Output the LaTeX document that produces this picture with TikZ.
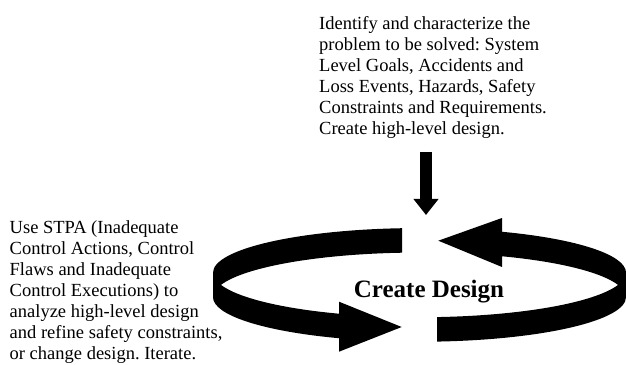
\documentclass[tikz,border=0pt]{standalone}
\usepackage{fontspec}
\setmainfont{Liberation Serif}
\usepackage{tikz}
\usetikzlibrary{calc,arrows.meta}
\frenchspacing
\tikzstyle{notebox} = [inner sep=0pt, align=left, anchor=north west, font=\fontsize{18.5}{21}\selectfont]
\tikzstyle{band} = [fill=black]
\tikzstyle{hoop} = [x radius=206.5pt, y radius=44.6pt]
\tikzstyle{feed} = [line width=12pt, -{Triangle[length=16pt,width=24pt]}]

\begin{document}
\begin{tikzpicture}[x=1pt,y=1pt]
    \useasboundingbox (0,0) rectangle (626,364);

    \node [notebox] (goals) at (319,347.6) {Identify and characterize the\\problem to be solved: System\\Level Goals, Accidents and\\Loss Events, Hazards, Safety\\Constraints and Requirements.\\Create high-level design.};
    \node [notebox] (stpa) at (9.5,143.8) {Use STPA (Inadequate\\Control Actions, Control\\Flaws and Inadequate\\Control Executions) to\\analyze high-level design\\and refine safety constraints,\\or change design. Iterate.};

    % upper and lower rims of the ribbon
    \coordinate (upper) at (419.5,91.35);
    \coordinate (lower) at (419.5,66.85);

    % left half, ends in the front arrowhead
    \fill [band] ($(upper)+(94.86:206.5pt and 44.6pt)$) arc [hoop, start angle=94.86, end angle=180]
        -- ($(lower)+(180:206.5pt and 44.6pt)$) arc [hoop, start angle=180, end angle=247.06]
        -- (339,12.3) -- (401.7,37) -- (339,62.3)
        -- ($(upper)+(247.06:206.5pt and 44.6pt)$) arc [hoop, start angle=247.06, end angle=195.94]
        -- ($(lower)+(164.06:206.5pt and 44.6pt)$) arc [hoop, start angle=164.06, end angle=94.86]
        -- cycle;

    % right half, ends in the back arrowhead
    \fill [band] ($(upper)+(274.86:206.5pt and 44.6pt)$)
        -- ($(lower)+(274.86:206.5pt and 44.6pt)$) arc [hoop, start angle=274.86, end angle=360]
        -- ($(upper)+(0:206.5pt and 44.6pt)$) arc [hoop, start angle=0, end angle=66.45]
        -- (502,146) -- (438.3,123.3) -- (502,97)
        -- ($(lower)+(66.45:206.5pt and 44.6pt)$) arc [hoop, start angle=66.45, end angle=15.94]
        -- ($(upper)+(344.06:206.5pt and 44.6pt)$) arc [hoop, start angle=344.06, end angle=274.86]
        -- cycle;

    \node [font=\bfseries\fontsize{25}{30}\selectfont, anchor=base, inner sep=0pt] (design) at (429,66) {Create Design};

    \coordinate (drop) at (426,212);
    \coordinate (entry) at (426,149);
    \draw [feed] (drop) -- (entry);
\end{tikzpicture}
\end{document}
